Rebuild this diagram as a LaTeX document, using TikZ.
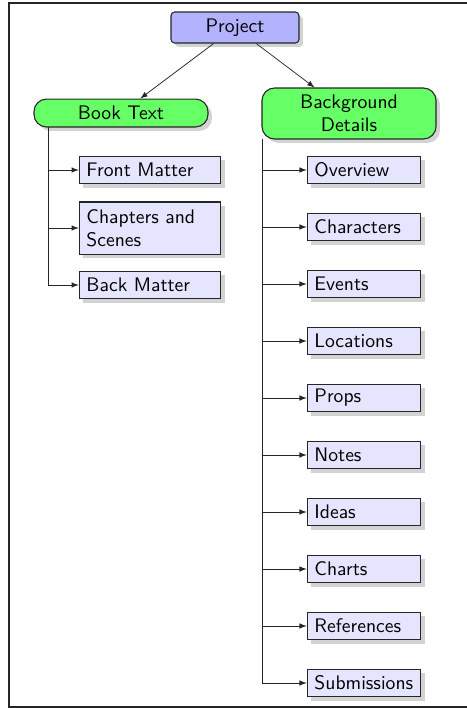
\documentclass[tikz,border=0pt]{standalone}
\usetikzlibrary{shadows,arrows}
\begin{document}
\begin{tikzpicture}[x=0.555pt,y=-0.555pt,
  font=\sffamily\fontsize{10.9}{12.6}\selectfont,
  base/.style={draw=black!85, semithick, drop shadow={opacity=0.35, shadow xshift=2.2pt, shadow yshift=-2.2pt}, inner ysep=2pt, inner xsep=4pt},
  root/.style={base, fill=blue!30, rounded corners=2pt, minimum width=71pt, minimum height=17.2pt},
  cat/.style={base, fill=green!60, rounded corners=7pt, minimum width=96.6pt, align=center},
  leafL/.style={base, fill=blue!10, text width=70.5pt, align=left, minimum height=15.2pt},
  leafR/.style={base, fill=blue!10, text width=55pt, align=left, minimum height=15.2pt},
  conn/.style={-latex, black!85},
  link/.style={-latex, black!85}
]
\useasboundingbox (0,0) rectangle (467,708);
\draw[black!85, thick] (470,3) -- (9,3) -- (9,707) -- (470,707);

\node[root] (proj) at (235,27.5) {Project};
\node[cat, minimum height=15.5pt] (book) at (121,113) {Book Text};
\node[cat, minimum height=28.3pt] (bg) at (349,113.5) {Background\\Details};

\draw[conn] (proj) -- (book);
\draw[conn] (proj) -- (bg);

\node[leafL] (fm) at (150,170) {Front Matter};
\node[leafL, minimum height=28.9pt] (ch) at (150,228) {Chapters and Scenes};
\node[leafL] (bm) at (150,285) {Back Matter};

\coordinate (lt) at (48,127);
\foreach \n in {fm,ch,bm}
  \draw[link] (lt) |- (\n.west);

\foreach \n/\t [count=\i from 0] in {ov/Overview,chr/Characters,ev/Events,loc/Locations,pr/Props,no/Notes,id/Ideas,cht/Charts,rf/References,sb/Submissions}
  \node[leafR] (\n) at (364,170+57*\i) {\t};

\coordinate (rt) at (262,139);
\foreach \n in {ov,chr,ev,loc,pr,no,id,cht,rf,sb}
  \draw[link] (rt) |- (\n.west);
\end{tikzpicture}
\end{document}
